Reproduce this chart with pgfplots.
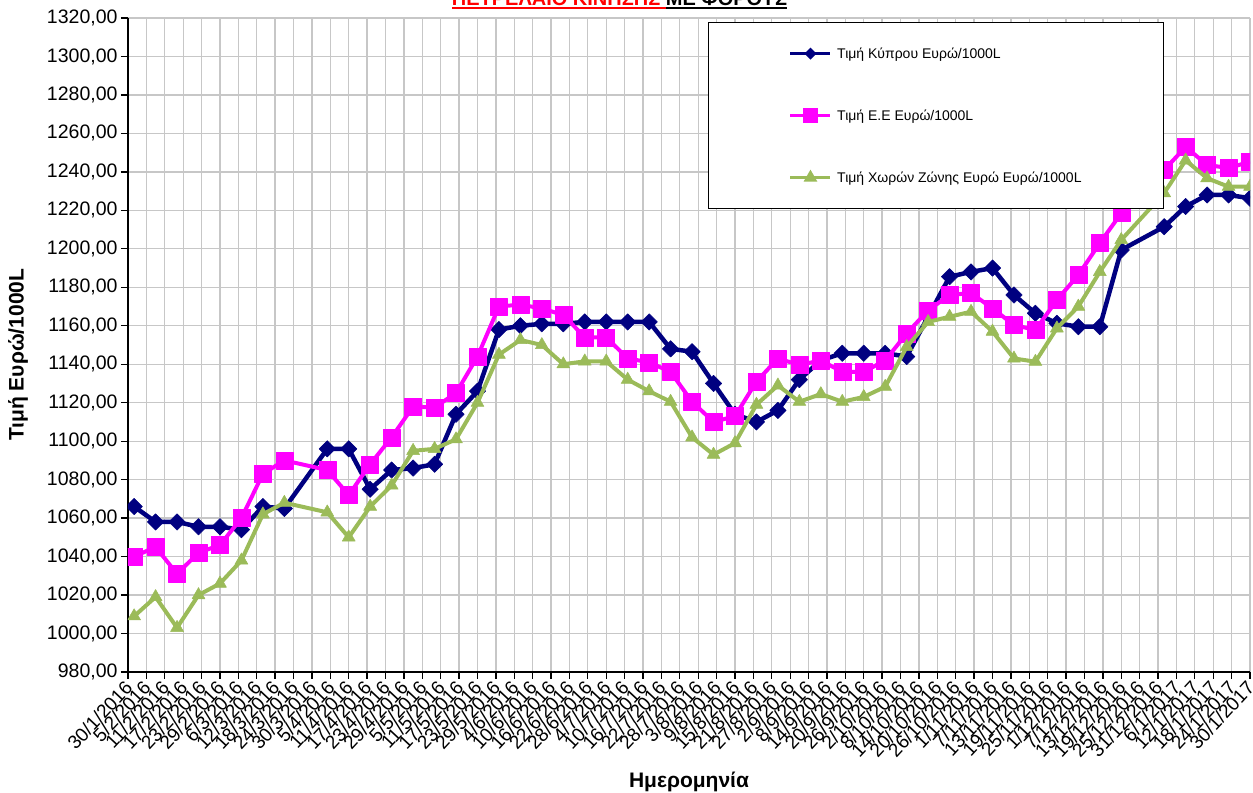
\documentclass[border=0pt]{standalone}
\usepackage{pgfplots}
\pgfplotsset{compat=1.18}
\usepackage{fontspec}
\setmainfont{Liberation Sans}
\newcommand\ulc[2]{\setbox0\hbox{#2}\rlap{\textcolor{#1}{\rule[-3.5pt]{\wd0}{2pt}}}\textcolor{#1}{\box0}}
\definecolor{cyp}{HTML}{000080}
\definecolor{eu}{HTML}{FF00FF}
\definecolor{zone}{HTML}{9BBB59}
\begin{document}
\begin{tikzpicture}
\begin{axis}[
  scale only axis, width=1122pt, height=654pt,
  xmin=0, xmax=366, ymin=980, ymax=1320,
  xtick={0,6,...,366},
  xticklabels={30/1/2016,5/2/2016,11/2/2016,17/2/2016,23/2/2016,29/2/2016,6/3/2016,12/3/2016,18/3/2016,24/3/2016,30/3/2016,5/4/2016,11/4/2016,17/4/2016,23/4/2016,29/4/2016,5/5/2016,11/5/2016,17/5/2016,23/5/2016,29/5/2016,4/6/2016,10/6/2016,16/6/2016,22/6/2016,28/6/2016,4/7/2016,10/7/2016,16/7/2016,22/7/2016,28/7/2016,3/8/2016,9/8/2016,15/8/2016,21/8/2016,27/8/2016,2/9/2016,8/9/2016,14/9/2016,20/9/2016,26/9/2016,2/10/2016,8/10/2016,14/10/2016,20/10/2016,26/10/2016,1/11/2016,7/11/2016,13/11/2016,19/11/2016,25/11/2016,1/12/2016,7/12/2016,13/12/2016,19/12/2016,25/12/2016,31/12/2016,6/1/2017,12/1/2017,18/1/2017,24/1/2017,30/1/2017},
  ytick={980,1000,...,1320},
  yticklabel={\pgfmathprintnumber[fixed,fixed zerofill,precision=2,use comma,1000 sep={},assume math mode=true]{\tick}},
  axis x line*=bottom, axis y line*=left,
  axis line style={line width=1.5pt, black},
  tick align=outside, major tick length=7pt,
  tick style={line width=1.3pt, black},
  grid=major, major grid style={line width=1.3pt, black!22},
  x tick label style={rotate=47, anchor=east, yshift=-4pt, font=\fontsize{19}{21}\selectfont},
  y tick label style={font=\fontsize{19.5}{22}\selectfont},
  xlabel={Ημερομηνία}, ylabel={Τιμή Ευρώ/1000L},
  label style={font=\bfseries\fontsize{21}{23}\selectfont},
  xlabel style={at={(rel axis cs:0.5,0)}, anchor=center, yshift=-110pt},
  ylabel style={at={(rel axis cs:0,0.485)}, anchor=center, yshift=110pt},
  title={\ulc{red}{ΠΕΤΡΕΛΑΙΟ ΚΙΝΗΣΗΣ }\ulc{black}{ΜΕ ΦΟΡΟΥΣ}},
  title style={at={(rel axis cs:0.438,1)}, anchor=base, yshift=6pt, font=\bfseries\fontsize{20}{22}\selectfont},
  clip marker paths=true,
  legend style={at={(rel axis cs:0.517,0.994)}, anchor=north west, draw=black, line width=1.3pt, fill=white,
    font=\fontsize{14}{16}\selectfont, inner xsep=80pt, inner ysep=23pt, row sep=46pt,
    cells={anchor=west}, /tikz/every odd column/.append style={column sep=3pt}},
  legend image code/.code={\draw[mark repeat=2,mark phase=2,#1] plot coordinates {(0pt,0pt) (20pt,0pt) (40pt,0pt)};},
]
\addlegendimage{cyp, line width=3.5pt, mark=square*, mark options={solid, rotate=45, fill=cyp, draw=cyp, mark size=2.5pt}}
\addlegendentry{Τιμή Κύπρου Ευρώ/1000L}
\addlegendimage{eu, line width=3.5pt, mark=square*, mark options={solid, fill=eu, draw=eu, mark size=5.5pt}}
\addlegendentry{Τιμή Ε.Ε Ευρώ/1000L}
\addlegendimage{zone, line width=3.5pt, mark=triangle*, mark options={solid, fill=zone, draw=zone, mark size=4.5pt}}
\addlegendentry{Τιμή Χωρών Ζώνης Ευρώ Ευρώ/1000L}

\addplot[forget plot, cyp, line width=4.5pt, line join=round, mark=square*, mark size=5.8pt, mark options={solid, rotate=45, fill=cyp, draw=cyp, line width=0.5pt}] coordinates {
(2,1066) (9,1058) (16,1058) (23,1055.5) (30,1055.5) (37,1054) (44,1066) (51,1065)
(65,1096) (72,1096) (79,1075) (86,1085) (93,1086) (100,1088) (107,1114) (114,1126)
(121,1158) (128,1160) (135,1161) (142,1161) (149,1162) (156,1162) (163,1162) (170,1162)
(177,1148) (184,1146.5) (191,1130) (198,1114) (205,1110) (212,1116) (219,1132) (226,1142)
(233,1145.7) (240,1145.7) (247,1145.7) (254,1144) (261,1164.7) (268,1185.5) (275,1188) (282,1190)
(289,1176) (296,1166.5) (303,1161.3) (310,1159.5) (317,1159.5) (324,1199.4)
(338,1211.5) (345,1222) (352,1228) (359,1228) (366,1226.3)};
\addplot[forget plot, eu, line width=4pt, line join=round, mark=square*, mark size=8.5pt, mark options={solid, fill=eu, draw=eu, line width=0.5pt}] coordinates {
(2,1040) (9,1045) (16,1031) (23,1042) (30,1046) (37,1060) (44,1083) (51,1090)
(65,1085) (72,1072) (79,1088) (86,1102) (93,1118) (100,1117.5) (107,1125) (114,1144)
(121,1170) (128,1171) (135,1169) (142,1165.6) (149,1154) (156,1154) (163,1143) (170,1141)
(177,1136) (184,1120.5) (191,1110) (198,1113) (205,1131) (212,1143) (219,1139.6) (226,1142)
(233,1136) (240,1136) (247,1142) (254,1156) (261,1168) (268,1176) (275,1177) (282,1169)
(289,1160.4) (296,1157.8) (303,1173.4) (310,1186.4) (317,1203) (324,1218.5)
(338,1241) (345,1253) (352,1243.6) (359,1242) (366,1245.3)};
\addplot[forget plot, zone, line width=4pt, line join=round, mark=triangle*, mark size=7.5pt, mark options={solid, fill=zone, draw=zone, line width=0.5pt}] coordinates {
(2,1009) (9,1019) (16,1003) (23,1020) (30,1026) (37,1038) (44,1062) (51,1068)
(65,1063) (72,1050) (79,1066) (86,1077) (93,1095) (100,1096) (107,1101) (114,1120)
(121,1145) (128,1152.6) (135,1150) (142,1140) (149,1141.5) (156,1141.5) (163,1132) (170,1126)
(177,1120.5) (184,1102) (191,1093) (198,1099) (205,1119) (212,1129) (219,1120.5) (226,1124.5)
(233,1120.5) (240,1123) (247,1128.3) (254,1149) (261,1162) (268,1164.7) (275,1167.3) (282,1157)
(289,1143) (296,1141.3) (303,1158.7) (310,1170) (317,1188) (324,1204.6)
(338,1229) (345,1246) (352,1236.7) (359,1232.3) (366,1232.3)};
\end{axis}
\pgfresetboundingbox
\useasboundingbox ([xshift=-128pt,yshift=-121pt]current axis.south west) rectangle ([xshift=3pt,yshift=18pt]current axis.north east);
\end{tikzpicture}
\end{document}
